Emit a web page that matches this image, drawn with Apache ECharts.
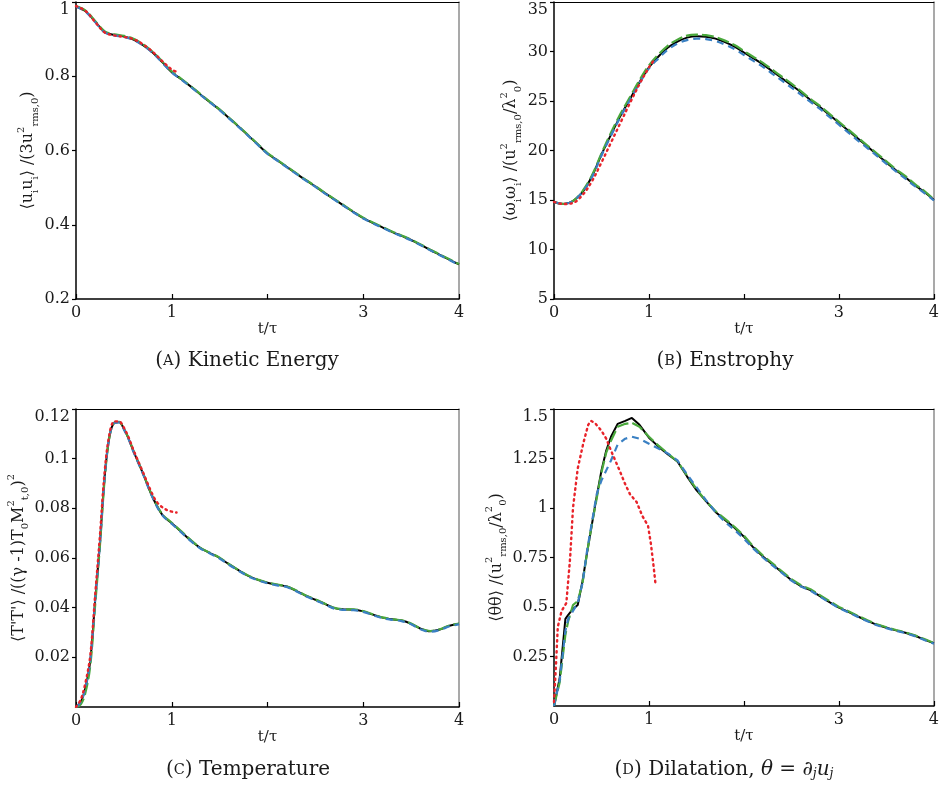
<!DOCTYPE html>
<html><head><meta charset="utf-8">
<script src="https://cdn.jsdelivr.net/npm/echarts@6/dist/echarts.min.js"></script>
<style>html,body{margin:0;padding:0;background:#fff}#c{width:942px;height:789px}</style>
</head><body><div id="c"></div>
<script>
// ---------- data ----------
const xTicks = [0, 1, 2, 3, 4];
const xTickLabels = ['0', '1', '', '3', '4'];

const tA = [0,0.1,0.2,0.3,0.4,0.5,0.6,0.7,0.8,0.9,1.0,1.1,1.2,1.3,1.4,1.5,1.6,1.7,1.8,1.9,2.0,2.1,2.2,2.3,2.4,2.5,2.6,2.7,2.8,2.9,3.0,3.1,3.2,3.3,3.4,3.5,3.6,3.7,3.8,3.9,4.0];
const tRed = [0,0.1,0.2,0.3,0.4,0.5,0.6,0.7,0.8,0.9,1.0,1.05];

const keBlack = [0.988,0.975,0.947,0.919,0.911,0.907,0.899,0.884,0.864,0.838,0.811,0.792,0.772,0.751,0.730,0.710,0.687,0.664,0.640,0.616,0.592,0.574,0.556,0.538,0.520,0.503,0.485,0.468,0.451,0.434,0.418,0.405,0.393,0.381,0.370,0.359,0.346,0.332,0.319,0.306,0.293];
const keGreen = [0.989,0.977,0.949,0.921,0.913,0.909,0.901,0.886,0.866,0.840,0.813,0.793,0.773,0.752,0.731,0.711,0.688,0.665,0.641,0.617,0.593,0.575,0.557,0.539,0.521,0.504,0.486,0.469,0.452,0.435,0.419,0.406,0.394,0.382,0.371,0.360,0.347,0.333,0.320,0.307,0.294];
const keBlue = [0.988,0.974,0.946,0.918,0.910,0.906,0.898,0.883,0.863,0.837,0.810,0.791,0.771,0.750,0.729,0.709,0.686,0.663,0.639,0.615,0.591,0.573,0.555,0.537,0.519,0.502,0.484,0.467,0.450,0.433,0.417,0.404,0.392,0.380,0.369,0.358,0.345,0.331,0.318,0.305,0.292];
const keRed = [0.989,0.976,0.946,0.918,0.910,0.906,0.900,0.886,0.866,0.841,0.818,0.812];

const enBlack = [14.8,14.6,14.9,15.8,17.4,19.6,21.6,23.5,25.2,26.9,28.4,29.5,30.4,31.0,31.4,31.55,31.5,31.3,30.95,30.5,29.9,29.3,28.7,28.0,27.3,26.6,25.9,25.1,24.4,23.6,22.8,22.0,21.2,20.4,19.6,18.8,18.0,17.3,16.5,15.8,15.0];
const enGreen = [14.8,14.6,14.9,15.9,17.5,19.7,21.8,23.7,25.4,27.1,28.6,29.7,30.6,31.2,31.6,31.7,31.65,31.45,31.1,30.65,30.05,29.45,28.85,28.15,27.45,26.75,26.0,25.2,24.5,23.7,22.9,22.1,21.3,20.5,19.7,18.9,18.1,17.4,16.6,15.9,15.05];
const enBlue = [14.8,14.6,14.9,15.8,17.3,19.5,21.5,23.4,25.1,26.8,28.3,29.3,30.2,30.8,31.15,31.3,31.25,31.05,30.7,30.25,29.65,29.05,28.45,27.75,27.05,26.35,25.65,24.9,24.2,23.4,22.6,21.8,21.0,20.25,19.45,18.65,17.9,17.15,16.4,15.7,14.95];
const enRed = [14.8,14.6,14.7,15.5,16.9,18.8,20.8,22.8,24.8,26.7,28.4,29.1];

const tC = [0,0.05,0.1,0.15,0.2,0.25,0.3,0.35,0.4,0.45,0.5,0.55,0.6,0.7,0.8,0.9,1.0,1.1,1.2,1.3,1.4,1.5,1.6,1.7,1.8,1.9,2.0,2.1,2.2,2.3,2.4,2.5,2.6,2.7,2.8,2.9,3.0,3.1,3.2,3.3,3.4,3.5,3.6,3.7,3.8,3.9,4.0];
const tmpBlack = [0.000,0.002,0.008,0.019,0.043,0.066,0.093,0.109,0.1145,0.1148,0.112,0.108,0.103,0.094,0.0845,0.0775,0.0740,0.0705,0.0670,0.0640,0.0620,0.0600,0.0574,0.0550,0.0528,0.0512,0.0500,0.0492,0.0485,0.0468,0.0448,0.0432,0.0415,0.0398,0.0393,0.0392,0.0385,0.0372,0.0360,0.0353,0.0348,0.0335,0.0315,0.0305,0.0312,0.0327,0.0335];
const tmpGreen = [0.000,0.001,0.006,0.017,0.041,0.065,0.092,0.109,0.1145,0.1148,0.112,0.1082,0.1032,0.0942,0.0847,0.0777,0.0742,0.0707,0.0672,0.0641,0.0621,0.0601,0.0575,0.0551,0.0529,0.0513,0.0501,0.0493,0.0486,0.0469,0.0449,0.0433,0.0416,0.0399,0.0394,0.0393,0.0386,0.0373,0.0361,0.0354,0.0349,0.0336,0.0316,0.0306,0.0313,0.0328,0.0336];
const tmpBlue = [0.000,0.002,0.008,0.019,0.043,0.066,0.093,0.109,0.1143,0.1146,0.1118,0.1078,0.1028,0.0938,0.0843,0.0773,0.0738,0.0703,0.0668,0.0638,0.0618,0.0598,0.0572,0.0548,0.0526,0.0510,0.0498,0.0490,0.0483,0.0466,0.0446,0.0430,0.0413,0.0396,0.0391,0.0390,0.0383,0.0370,0.0358,0.0351,0.0346,0.0333,0.0313,0.0303,0.0310,0.0325,0.0333];
const tRedC = [0,0.05,0.1,0.15,0.2,0.25,0.3,0.35,0.4,0.45,0.5,0.55,0.6,0.7,0.8,0.85,0.9,0.95,1.0,1.05];
const tmpRed = [0.000,0.003,0.010,0.021,0.045,0.069,0.095,0.110,0.1150,0.1150,0.1125,0.1085,0.1035,0.0945,0.0855,0.0823,0.0805,0.0793,0.0787,0.0783];

const tD = [0,0.06,0.12,0.15,0.2,0.25,0.3,0.35,0.4,0.45,0.5,0.55,0.6,0.67,0.75,0.82,0.9,1.0,1.1,1.2,1.3,1.4,1.5,1.6,1.7,1.8,1.9,2.0,2.1,2.2,2.3,2.4,2.5,2.6,2.7,2.8,2.9,3.0,3.1,3.2,3.3,3.4,3.5,3.6,3.7,3.8,3.9,4.0];
const dilBlack = [0,0.14,0.44,0.46,0.49,0.51,0.63,0.78,0.92,1.06,1.19,1.29,1.36,1.425,1.44,1.455,1.42,1.355,1.31,1.27,1.235,1.16,1.09,1.035,0.98,0.94,0.90,0.855,0.80,0.755,0.715,0.675,0.635,0.605,0.585,0.555,0.525,0.497,0.475,0.452,0.43,0.41,0.395,0.382,0.37,0.355,0.335,0.317];
const dilGreen = [0,0.12,0.36,0.43,0.51,0.53,0.62,0.78,0.92,1.05,1.18,1.28,1.34,1.41,1.425,1.43,1.41,1.36,1.315,1.275,1.235,1.165,1.095,1.035,0.985,0.945,0.905,0.86,0.805,0.76,0.72,0.68,0.64,0.61,0.59,0.56,0.53,0.50,0.478,0.455,0.433,0.413,0.398,0.384,0.372,0.357,0.338,0.318];
const dilBlue = [0,0.13,0.38,0.44,0.48,0.52,0.62,0.79,0.93,1.07,1.14,1.19,1.24,1.32,1.35,1.36,1.35,1.325,1.30,1.275,1.24,1.17,1.105,1.04,0.98,0.93,0.89,0.845,0.795,0.75,0.71,0.672,0.633,0.603,0.583,0.553,0.523,0.495,0.473,0.45,0.428,0.408,0.393,0.38,0.368,0.353,0.333,0.315];
const tDr = [0,0.02,0.04,0.08,0.13,0.17,0.2,0.25,0.31,0.36,0.39,0.43,0.5,0.55,0.6,0.69,0.75,0.8,0.87,0.93,0.99,1.02,1.05,1.07];
const dilRed = [0.02,0.2,0.40,0.48,0.52,0.75,1.0,1.2,1.33,1.42,1.44,1.43,1.39,1.35,1.29,1.19,1.12,1.07,1.03,0.96,0.91,0.82,0.70,0.61];

const captions = ['Kinetic Energy', 'Enstrophy', 'Temperature', 'Dilatation, '];
const captionLetters = ['A', 'B', 'C', 'D'];

// ---------- chart ----------
const FONT = 'DejaVu Serif';
const TXT = '#1a1a1a';
const styles = {
  k: {color: '#000000', width: 2, type: 'solid'},
  g: {color: '#4aa83c', width: 2.2, type: [12, 4]},
  b: {color: '#3a80c3', width: 2.2, type: [7, 5]},
  r: {color: '#e8232a', width: 2.4, type: [1.5, 4]}
};
const zip = (xs, ys) => xs.map((x, i) => [x, ys[i]]);

const nameRich = {
  n: {fontFamily: FONT, fontSize: 16, color: TXT, lineHeight: 24, verticalAlign: 'middle'},
  sub: {fontFamily: FONT, fontSize: 10, color: TXT, lineHeight: 10, verticalAlign: 'bottom'},
  sup: {fontFamily: FONT, fontSize: 10, color: TXT, lineHeight: 10, verticalAlign: 'top'}
};

const panels = [
  {grid: {left: 76, top: 2, width: 383, height: 297}, ymin: 0.2, ymax: 1, yint: 0.2, showMin: true,
   yname: '{n|⟨u}{sub|i}{n|u}{sub|i}{n|⟩ /(3u}{sup|2}{sub|rms,0}{n|)}', nameGap: 36, smooth: true,
   series: [[tA, keBlack, 'k'], [tA, keGreen, 'g'], [tA, keBlue, 'b'], [tRed, keRed, 'r']]},
  {grid: {left: 554, top: 2, width: 382, height: 297}, ymin: 5, ymax: 35, yint: 5, showMin: true,
   yname: '{n|⟨ω}{sub|i}{n|ω}{sub|i}{n|⟩ /(u}{sup|2}{sub|rms,0}{n|/λ}{sup|2}{sub|0}{n|)}', nameGap: 31, smooth: true,
   series: [[tA, enBlack, 'k'], [tA, enGreen, 'g'], [tA, enBlue, 'b'], [tRed, enRed, 'r']]},
  {grid: {left: 76, top: 409, width: 383, height: 298}, ymin: 0, ymax: 0.12, yint: 0.02, showMin: false,
   yname: "{n|⟨T'T'⟩ /((γ -1)T}{sub|0}{n|M}{sup|2}{sub|t,0}{n|)}{sup|2}", nameGap: 44, smooth: true,
   series: [[tC, tmpBlack, 'k'], [tC, tmpGreen, 'g'], [tC, tmpBlue, 'b'], [tRedC, tmpRed, 'r']]},
  {grid: {left: 554, top: 409, width: 382, height: 297}, ymin: 0, ymax: 1.5, yint: 0.25, showMin: false,
   yname: '{n|⟨θθ⟩ /(u}{sup|2}{sub|rms,0}{n|/λ}{sup|2}{sub|0}{n|)}', nameGap: 43, smooth: false,
   series: [[tD, dilBlack, 'k'], [tD, dilGreen, 'g'], [tD, dilBlue, 'b'], [tDr, dilRed, 'r']]}
];

const option = {
  animation: false,
  backgroundColor: '#ffffff',
  grid: [], xAxis: [], yAxis: [], series: [], graphic: []
};

panels.forEach((p, i) => {
  option.grid.push(Object.assign({containLabel: false}, p.grid));
  const xi = option.xAxis.length, yi = option.yAxis.length;
  option.xAxis.push({
    type: 'value', gridIndex: i, min: 0, max: 4, interval: 1, position: 'bottom',
    axisLine: {show: true, onZero: false, lineStyle: {color: '#000', width: 1.5}},
    axisTick: {show: true, inside: true, length: 5, lineStyle: {color: '#000', width: 1.2}},
    axisLabel: {show: true, margin: 6, fontFamily: FONT, fontSize: 16, color: TXT,
      formatter: v => { const k = xTicks.indexOf(v); return k >= 0 ? xTickLabels[k] : ''; }},
    splitLine: {show: false},
    name: 't/τ', nameLocation: 'middle', nameGap: 21,
    nameTextStyle: {fontFamily: FONT, fontSize: 15, color: TXT}
  });
  option.xAxis.push({
    type: 'value', gridIndex: i, min: 0, max: 4, position: 'top',
    axisLine: {show: true, onZero: false, lineStyle: {color: '#000', width: 1}},
    axisTick: {show: false}, axisLabel: {show: false}, splitLine: {show: false}
  });
  option.yAxis.push({
    type: 'value', gridIndex: i, min: p.ymin, max: p.ymax, interval: p.yint, position: 'left',
    axisLine: {show: true, onZero: false, lineStyle: {color: '#000', width: 1.5}},
    axisTick: {show: true, inside: false, length: 4, lineStyle: {color: '#000', width: 1.2}},
    axisLabel: {show: true, margin: 6, showMinLabel: p.showMin, showMaxLabel: true,
      fontFamily: FONT, fontSize: 16, color: TXT,
      formatter: v => {
        const s = String(+v.toFixed(4));
        return Math.abs(v - p.ymax) < 1e-9 ? '{top|' + s + '}' : s;
      },
      rich: {top: {fontFamily: FONT, fontSize: 16, color: TXT, padding: [16, 0, 0, 0]}}},
    splitLine: {show: false},
    name: p.yname, nameLocation: 'middle', nameRotate: 90, nameGap: p.nameGap,
    nameTextStyle: {fontFamily: FONT, fontSize: 16, color: TXT, rich: nameRich}
  });
  option.yAxis.push({
    type: 'value', gridIndex: i, min: p.ymin, max: p.ymax, position: 'right',
    axisLine: {show: true, onZero: false, lineStyle: {color: '#8c8c8c', width: 1.5}},
    axisTick: {show: false}, axisLabel: {show: false}, splitLine: {show: false}
  });
  p.series.forEach(([xs, ys, st]) => {
    const s = styles[st];
    option.series.push({
      type: 'line', xAxisIndex: xi, yAxisIndex: yi, data: zip(xs, ys),
      showSymbol: false, symbol: 'none', smooth: p.smooth ? 0.35 : false,
      lineStyle: {color: s.color, width: s.width, type: s.type, cap: st === 'r' ? 'round' : 'butt'},
      z: 2, silent: true
    });
  });
});

const capRich = {
  m: {fontFamily: FONT, fontSize: 20, fill: TXT},
  sc: {fontFamily: FONT, fontSize: 14.5, fill: TXT},
  it: {fontFamily: FONT, fontSize: 20, fontStyle: 'italic', fill: TXT},
  isub: {fontFamily: FONT, fontSize: 12.5, fontStyle: 'italic', fill: TXT, padding: [7, 0, 0, 0]}
};
const capPos = [[247, 361], [725, 361], [248, 770], [724, 770]];
captions.forEach((c, i) => {
  let txt = '{m|(}{sc|' + captionLetters[i] + '}{m|) ' + c + '}';
  if (i === 3) txt += '{it|θ}{m| = }{it|∂}{isub|j}{it|u}{isub|j}';
  option.graphic.push({
    type: 'text', x: capPos[i][0], y: capPos[i][1],
    style: {text: txt, rich: capRich, fontFamily: FONT, fontSize: 20, fill: TXT,
      align: 'center', verticalAlign: 'middle'}
  });
});

const chart = echarts.init(document.getElementById('c'));
chart.setOption(option);
</script></body></html>
